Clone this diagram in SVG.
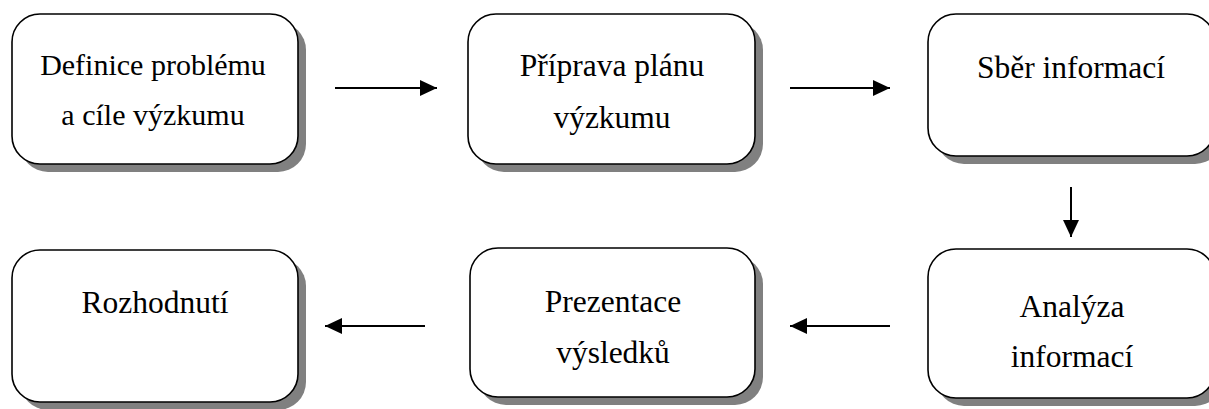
<svg xmlns="http://www.w3.org/2000/svg" width="1209" height="409" viewBox="0 0 1209 409">
<defs>
<style>
.sh{fill:#808080;stroke:none}
.bx{fill:#fff;stroke:#000;stroke-width:1.6}
.t{font-family:"Liberation Serif","Times New Roman",serif;font-size:31.5px;fill:#000;text-anchor:middle}
.t1{font-size:30px}
.ln{stroke:#000;stroke-width:2;fill:none;marker-end:url(#ah)}
</style>
<marker id="ah" markerWidth="17" markerHeight="16" refX="17" refY="8" orient="auto" markerUnits="userSpaceOnUse">
<path d="M0,0 L17,8 L0,16 Z" fill="#000"/>
</marker>
</defs>
<rect width="1209" height="409" fill="#fff"/>
<g id="n1">
<rect class="sh" x="20" y="22" width="286" height="150" rx="28"/>
<rect class="bx" x="12" y="14" width="286" height="150" rx="28"/>
<text class="t t1" x="153" y="75">Definice problému</text>
<text class="t t1" x="153" y="125">a cíle výzkumu</text>
</g>
<g id="n2">
<rect class="sh" x="476" y="22" width="287" height="150" rx="28"/>
<rect class="bx" x="468" y="14" width="287" height="150" rx="28"/>
<text class="t" x="612" y="76">Příprava plánu</text>
<text class="t" x="612" y="128">výzkumu</text>
</g>
<g id="n3">
<rect class="sh" x="936" y="22" width="287" height="142" rx="28"/>
<rect class="bx" x="928" y="14" width="287" height="142" rx="28"/>
<text class="t" x="1071" y="78">Sběr informací</text>
</g>
<g id="n4">
<rect class="sh" x="20" y="258" width="286" height="152" rx="28"/>
<rect class="bx" x="12" y="250" width="286" height="152" rx="28"/>
<text class="t" x="155" y="313">Rozhodnutí</text>
</g>
<g id="n5">
<rect class="sh" x="478" y="256" width="285" height="149" rx="28"/>
<rect class="bx" x="470" y="248" width="285" height="149" rx="28"/>
<text class="t" x="613" y="312">Prezentace</text>
<text class="t" x="613" y="363">výsledků</text>
</g>
<g id="n6">
<rect class="sh" x="936" y="257" width="287" height="149" rx="28"/>
<rect class="bx" x="928" y="249" width="287" height="149" rx="28"/>
<text class="t" x="1072" y="317">Analýza</text>
<text class="t" x="1072" y="367">informací</text>
</g>
<g id="connectors">
<line class="ln" x1="335" y1="88" x2="437" y2="88"/>
<line class="ln" x1="790" y1="88" x2="890" y2="88"/>
<line class="ln" x1="1071" y1="187" x2="1071" y2="237"/>
<line class="ln" x1="890" y1="326" x2="790" y2="326"/>
<line class="ln" x1="425" y1="326" x2="325" y2="326"/>
</g>
</svg>
